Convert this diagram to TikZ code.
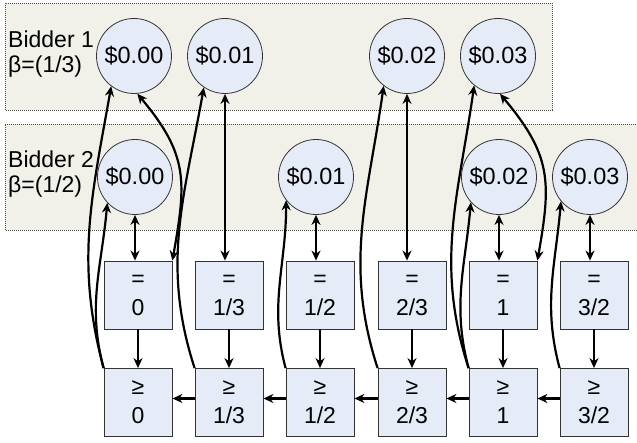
\documentclass[tikz,border=0pt]{standalone}
\usepackage{fontspec}
\setmainfont{Liberation Sans}
\usetikzlibrary{arrows.meta}
\definecolor{panelfill}{HTML}{F1F1EA}
\definecolor{nodefill}{HTML}{E6ECF7}
\begin{document}
\begin{tikzpicture}[x=1pt,y=1pt,
 panel/.style={draw=black!70, dash pattern=on 1pt off 1pt, fill=panelfill, line width=0.8pt},
 price/.style={circle, draw=black!80, fill=nodefill, minimum size=75pt, inner sep=0pt, font=\fontsize{23.5}{26}\selectfont, line width=0.8pt},
 valbox/.style={rectangle, draw=black!80, fill=nodefill, minimum size=68pt, inner sep=0pt, align=center, font=\fontsize{23}{29}\selectfont, line width=0.8pt},
 lbl/.style={align=left, anchor=west, font=\fontsize{23}{25}\selectfont, inner sep=0pt},
 arr/.style={line width=2.2pt, -{Stealth[length=10pt,width=9pt]}},
 darr/.style={line width=2.2pt, {Stealth[length=10pt,width=9pt]}-{Stealth[length=10pt,width=9pt]}}
]
\useasboundingbox (0,0) rectangle (637,443);
\draw[panel] (5,333) rectangle (552,440);
\draw[panel] (5,213) rectangle (645,319);

\node[lbl] (l1) at (8,389) {Bidder 1\\β=(1/3)};
\node[lbl] (l2) at (8,269) {Bidder 2\\β=(1/2)};

\node[price] (b10) at (134,387) {\$0.00};
\node[price] (b11) at (225,387) {\$0.01};
\node[price] (b12) at (407,387) {\$0.02};
\node[price] (b13) at (498,387) {\$0.03};

\node[price] (b20) at (135,266) {\$0.00};
\node[price] (b21) at (316,266) {\$0.01};
\node[price] (b22) at (499,266) {\$0.02};
\node[price] (b23) at (590,266) {\$0.03};

\node[valbox] (e0) at (138,148) {=\\0};
\node[valbox] (e1) at (229,148) {=\\1/3};
\node[valbox] (e2) at (320,148) {=\\1/2};
\node[valbox] (e3) at (412,148) {=\\2/3};
\node[valbox] (e4) at (503,148) {=\\1};
\node[valbox] (e5) at (594,148) {=\\3/2};

\node[valbox] (g0) at (138,40.5) {≥\\0};
\node[valbox] (g1) at (229,40.5) {≥\\1/3};
\node[valbox] (g2) at (320,40.5) {≥\\1/2};
\node[valbox] (g3) at (412,40.5) {≥\\2/3};
\node[valbox] (g4) at (503,40.5) {≥\\1};
\node[valbox] (g5) at (594,40.5) {≥\\3/2};

% = to >=
\foreach \i in {0,...,5} { \draw[arr] (e\i) -- (g\i); }
% >= chain
\foreach \a/\b in {5/4,4/3,3/2,2/1,1/0} { \draw[arr] ([yshift=4pt]g\a.west) -- ([yshift=4pt]g\b.east); }

% vertical double arrows
\draw[darr] (b20.south) -- (b20.south |- e0.north);
\draw[darr] (b11.south) -- (b11.south |- e1.north);
\draw[darr] (b21.south) -- (b21.south |- e2.north);
\draw[darr] (b12.south) -- (b12.south |- e3.north);
\draw[darr] (b22.south) -- (b22.south |- e4.north);
\draw[darr] (b23.south) -- (b23.south |- e5.north);

% curved arrows
\draw[arr] (g0.north west) to[out=105,in=-100] (b10.233);
\draw[arr] (g0.north west) to[out=105,in=-95] (b20.223);
\draw[darr] (b10.-85) to[out=-50,in=80,looseness=1.2] (e0.north east);
\draw[arr] (g1.north west) to[out=108,in=-100] (b11.236);
\draw[arr] (g2.north west) to[out=105,in=-90] (b21.218);
\draw[arr] (g3.north west) to[out=108,in=-98] (b12.232);
\draw[arr] (g4.north west) to[out=108,in=-98] (b13.231);
\draw[arr] (g4.north west) to[out=105,in=-95] (b22.222);
\draw[darr] (b13.-87) to[out=-50,in=80,looseness=1.2] (e4.north east);
\draw[arr] (g5.north west) to[out=105,in=-95] (b23.220);
\end{tikzpicture}
\end{document}
